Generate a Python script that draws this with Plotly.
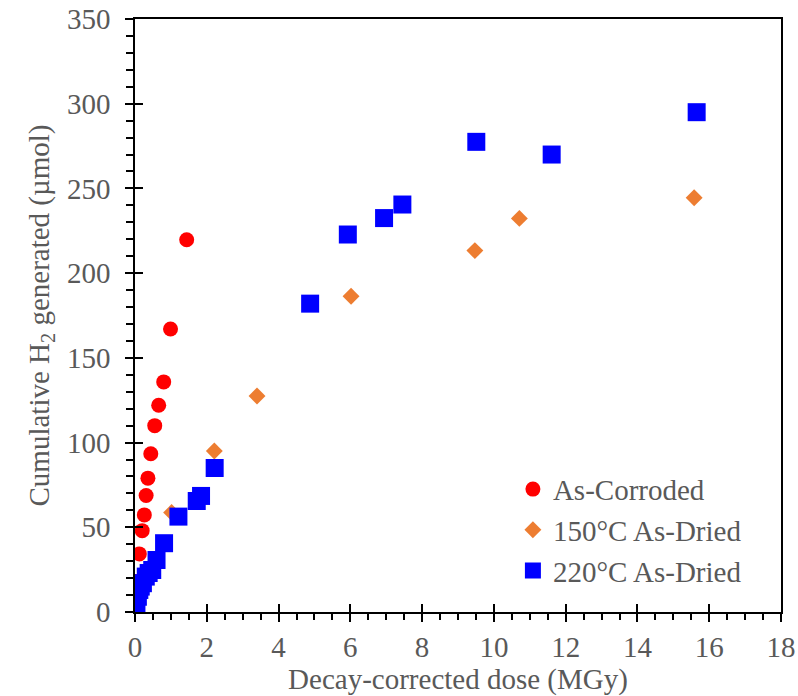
import plotly.graph_objects as go

# As-Corroded
corr_x = [0.0, 0.01, 0.03, 0.12, 0.20, 0.26, 0.31, 0.36, 0.44, 0.55, 0.66, 0.80, 0.99, 1.44]
corr_y = [0.0, 10.0, 18.0, 34.3, 48.0, 57.3, 68.8, 79.0, 93.4, 110.0, 122.0, 135.8, 167.0, 219.7]

# 150°C As-Dried
d150_x = [0.0, 1.02, 2.21, 3.40, 6.02, 9.47, 10.71, 15.58]
d150_y = [0.0, 58.7, 95.0, 127.5, 186.4, 213.3, 232.3, 244.5]

# 220°C As-Dried
d220_x = [0.0, 0.02, 0.04, 0.08, 0.12, 0.16, 0.22, 0.30, 0.38, 0.48, 0.60, 0.81, 1.21,
          1.72, 1.84, 2.22, 4.88, 5.93, 6.94, 7.45, 9.51, 11.61, 15.65]
d220_y = [0.0, 2.0, 5.3, 9.0, 13.0, 15.0, 17.0, 20.9, 23.0, 24.8, 30.7, 40.6, 56.3,
          65.5, 68.5, 85.0, 182.0, 222.8, 232.5, 240.5, 277.5, 270.0, 295.0]

x_range = [0, 18]
y_range = [0, 350]
x_ticks = [0, 2, 4, 6, 8, 10, 12, 14, 16, 18]
y_ticks = [0, 50, 100, 150, 200, 250, 300, 350]

FONT = "Times New Roman, Liberation Serif, serif"
GREY = "#595959"
FS = 29

fig = go.Figure()
fig.add_trace(go.Scatter(x=corr_x, y=corr_y, mode="markers", name="As-Corroded",
                         marker=dict(symbol="circle", size=15, color="#FF0000")))
fig.add_trace(go.Scatter(x=d150_x, y=d150_y, mode="markers", name="150°C As-Dried",
                         marker=dict(symbol="diamond", size=13, color="#ED7D31")))
fig.add_trace(go.Scatter(x=d220_x, y=d220_y, mode="markers", name="220°C As-Dried",
                         marker=dict(symbol="square", size=18, color="#0000FF")))
# helper trace for the inner half of the crossing major ticks
fig.add_trace(go.Scatter(x=[None], y=[None], xaxis="x2", yaxis="y2", showlegend=False,
                         hoverinfo="skip"))

fig.update_layout(
    width=798, height=696,
    margin=dict(l=135, r=17, t=19, b=84, autoexpand=False),
    paper_bgcolor="white", plot_bgcolor="white",
    font=dict(family=FONT, size=FS, color=GREY),
    showlegend=True,
    legend=dict(x=0.585, y=0.25, xanchor="left", yanchor="top",
                bgcolor="rgba(0,0,0,0)", font=dict(family=FONT, size=FS, color=GREY),
                itemsizing="trace", tracegroupgap=0),
    xaxis=dict(range=x_range, tickvals=x_ticks, showgrid=False, zeroline=False,
               automargin=False,
               showline=True, linecolor="black", linewidth=1.5, mirror=True,
               ticks="outside", ticklen=8, tickwidth=1.5, tickcolor="black",
               minor=dict(ticks="outside", dtick=0.5, ticklen=6, tickwidth=1.5,
                          tickcolor="black", showgrid=False),
               tickfont=dict(family=FONT, size=FS, color=GREY),
               ticklabelstandoff=0,
               title=dict(text="Decay-corrected dose (MGy)", standoff=0,
                          font=dict(family=FONT, size=FS, color=GREY))),
    yaxis=dict(range=y_range, tickvals=y_ticks, showgrid=False, zeroline=False,
               automargin=False,
               showline=True, linecolor="black", linewidth=1.5, mirror=True,
               ticks="outside", ticklen=8, tickwidth=1.5, tickcolor="black",
               minor=dict(ticks="outside", dtick=10, ticklen=7, tickwidth=1.5,
                          tickcolor="black", showgrid=False),
               tickfont=dict(family=FONT, size=FS, color=GREY),
               ticklabelstandoff=9,
               title=dict(text="Cumulative H<sub>2</sub> generated (µmol)", standoff=9,
                          font=dict(family=FONT, size=FS, color=GREY))),
    xaxis2=dict(range=x_range, tickvals=x_ticks, overlaying="x", side="bottom",
                automargin=False,
                showgrid=False, zeroline=False, showline=False, showticklabels=False,
                ticks="inside", ticklen=8, tickwidth=1.5, tickcolor="black"),
    yaxis2=dict(range=y_range, tickvals=y_ticks, overlaying="y", side="left",
                automargin=False,
                showgrid=False, zeroline=False, showline=False, showticklabels=False,
                ticks="inside", ticklen=8, tickwidth=1.5, tickcolor="black"),
)

fig.write_html(
    "out.html",
    config={"displayModeBar": False},
    post_script="document.body.style.margin='0';document.documentElement.style.overflow='hidden';",
)
